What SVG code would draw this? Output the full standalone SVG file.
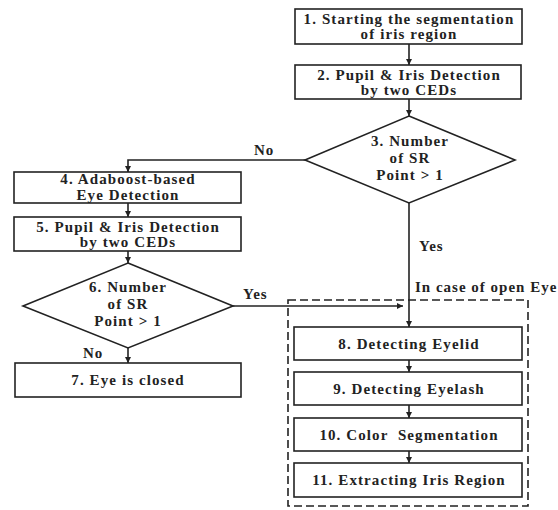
<svg xmlns="http://www.w3.org/2000/svg" width="558" height="510" viewBox="0 0 558 510">
<defs>
<marker id="ah" viewBox="0 0 10 10" refX="10" refY="5" markerWidth="6" markerHeight="6" orient="auto" markerUnits="userSpaceOnUse">
<path d="M0,0 L10,5 L0,10 z" fill="#222"/>
</marker>
<style>
.box{fill:#fff;stroke:#222;stroke-width:1.6}
.t{font-family:"Liberation Serif","DejaVu Serif",serif;font-size:15px;font-weight:bold;fill:#222;text-anchor:middle;letter-spacing:1.1px}
.lbl{font-family:"Liberation Serif","DejaVu Serif",serif;font-size:15px;font-weight:bold;fill:#222;letter-spacing:1px}
.c{fill:none;stroke:#222;stroke-width:1.6}
.ca{fill:none;stroke:#222;stroke-width:1.6;marker-end:url(#ah)}
</style>
</defs>
<rect width="558" height="510" fill="#fff"/>
<g id="group-open-eye">
<rect x="288" y="300" width="240" height="206" fill="none" stroke="#222" stroke-width="1.6" stroke-dasharray="8,4"/>
<text class="lbl" x="415" y="292">In case of open Eye</text>
</g>
<g id="connectors">
<line class="ca" x1="409" y1="44" x2="409" y2="65"/>
<line class="ca" x1="409" y1="99" x2="409" y2="116"/>
<polyline class="ca" points="305,160 128,160 128,172"/>
<line class="ca" x1="128" y1="203" x2="128" y2="217"/>
<line class="ca" x1="128" y1="251" x2="128" y2="263"/>
<line class="ca" x1="128" y1="348" x2="128" y2="363"/>
<line class="ca" x1="233" y1="306" x2="403" y2="306"/>
<line class="ca" x1="409" y1="203" x2="409" y2="327"/>
<line class="ca" x1="409" y1="360" x2="409" y2="372"/>
<line class="ca" x1="409" y1="405" x2="409" y2="418"/>
<line class="ca" x1="409" y1="451" x2="409" y2="463"/>
<text class="lbl" x="254" y="155">No</text>
<text class="lbl" x="419" y="251">Yes</text>
<text class="lbl" x="83" y="358">No</text>
<text class="lbl" x="243" y="299">Yes</text>
</g>
<g id="n1">
<rect class="box" x="295" y="9" width="227" height="35"/>
<text class="t" x="409" y="24">1. Starting the segmentation</text>
<text class="t" x="409" y="39">of iris region</text>
</g>
<g id="n2">
<rect class="box" x="295" y="65" width="226" height="34"/>
<text class="t" x="409" y="80">2. Pupil &amp; Iris Detection</text>
<text class="t" x="409" y="95">by two CEDs</text>
</g>
<g id="n3">
<polygon class="box" points="409,116 515,160 409,203 305,160"/>
<text class="t" x="410" y="146">3. Number</text>
<text class="t" x="410" y="163">of SR</text>
<text class="t" x="410" y="180">Point &gt; 1</text>
</g>
<g id="n4">
<rect class="box" x="14" y="172" width="227" height="31"/>
<text class="t" x="128" y="184">4. Adaboost-based</text>
<text class="t" x="128" y="200">Eye Detection</text>
</g>
<g id="n5">
<rect class="box" x="14" y="217" width="227" height="34"/>
<text class="t" x="128" y="232">5. Pupil &amp; Iris Detection</text>
<text class="t" x="128" y="247">by two CEDs</text>
</g>
<g id="n6">
<polygon class="box" points="128,263 233,306 128,348 23,306"/>
<text class="t" x="128" y="292">6. Number</text>
<text class="t" x="128" y="309">of SR</text>
<text class="t" x="128" y="326">Point &gt; 1</text>
</g>
<g id="n7">
<rect class="box" x="15" y="363" width="226" height="34"/>
<text class="t" x="128" y="385">7. Eye is closed</text>
</g>
<g id="n8">
<rect class="box" x="294" y="327" width="228" height="33"/>
<text class="t" x="409" y="349">8. Detecting Eyelid</text>
</g>
<g id="n9">
<rect class="box" x="294" y="372" width="228" height="33"/>
<text class="t" x="409" y="394">9. Detecting Eyelash</text>
</g>
<g id="n10">
<rect class="box" x="294" y="418" width="228" height="33"/>
<text class="t" x="409" y="440" xml:space="preserve">10. Color  Segmentation</text>
</g>
<g id="n11">
<rect class="box" x="294" y="463" width="228" height="34"/>
<text class="t" x="409" y="485">11. Extracting Iris Region</text>
</g>
</svg>
